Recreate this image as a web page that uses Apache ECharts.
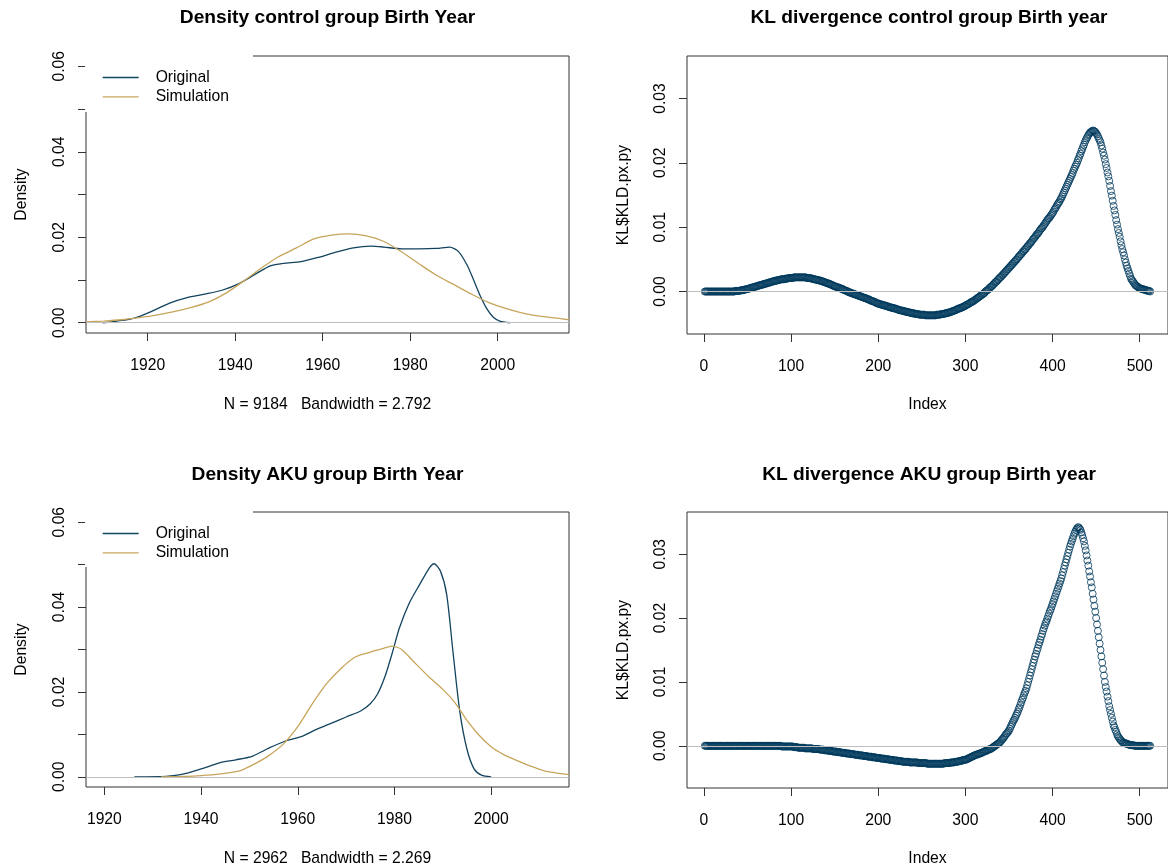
<!DOCTYPE html>
<html>
<head>
<meta charset="utf-8">
<script src="https://cdn.jsdelivr.net/npm/echarts@6/dist/echarts.min.js"></script>
<style>
html,body{margin:0;padding:0;background:#fff;}
#chart{width:1168px;height:868px;}
</style>
</head>
<body>
<div id="chart"></div>
<script>
// ---------- Data ----------
const ctrlOrigYear = [1909.7, 1913, 1917, 1921, 1925, 1929, 1933, 1937, 1941, 1945, 1948, 1951, 1955, 1959, 1963, 1967, 1971, 1974, 1978, 1982, 1986, 1989, 1991, 1993, 1994.5, 1996, 1997.5, 1999, 2000.5, 2002.8];
const ctrlOrigDens = [0.0000, 0.0004, 0.0011, 0.0027, 0.0046, 0.0059, 0.0067, 0.0076, 0.0092, 0.0116, 0.0133, 0.0139, 0.0143, 0.0153, 0.0165, 0.0175, 0.0179, 0.0177, 0.0173, 0.0173, 0.0174, 0.0177, 0.0167, 0.0135, 0.0100, 0.0063, 0.0033, 0.0013, 0.0004, 0.0000];

const ctrlSimYear = [1905.9, 1910, 1914, 1918, 1922, 1926, 1930, 1934, 1938, 1942, 1946, 1950, 1954, 1958, 1962, 1966, 1970, 1974, 1978, 1982, 1986, 1990, 1994, 1998, 2002, 2006, 2010, 2014, 2016.4];
const ctrlSimDens = [0.0002, 0.0004, 0.0007, 0.0012, 0.0018, 0.0026, 0.0036, 0.0049, 0.0070, 0.0098, 0.0128, 0.0155, 0.0175, 0.0196, 0.0205, 0.0208, 0.0203, 0.0190, 0.0166, 0.0138, 0.0111, 0.0089, 0.0067, 0.0047, 0.0033, 0.0022, 0.0015, 0.0010, 0.0007];

const akuOrigYear = [1926.2, 1932.8, 1936.9, 1940.4, 1943.8, 1947.2, 1950.7, 1954.1, 1957.6, 1961, 1963.5, 1966.5, 1970, 1973, 1975, 1976.5, 1978, 1979.5, 1981, 1983, 1985.2, 1987.2, 1988.2, 1989.5, 1990.8, 1992.1, 1993.5, 1995, 1996.5, 1998, 2000];
const akuOrigDens = [0.0000, 0.0001, 0.0008, 0.0020, 0.0033, 0.0040, 0.0049, 0.0068, 0.0085, 0.0096, 0.0110, 0.0124, 0.0141, 0.0155, 0.0172, 0.0195, 0.0235, 0.0290, 0.0350, 0.0408, 0.0453, 0.0492, 0.0502, 0.0485, 0.0430, 0.0295, 0.0155, 0.0065, 0.0018, 0.0004, 0.0000];

const akuSimYear = [1931.7, 1936, 1940, 1944, 1948, 1951, 1954, 1957, 1960, 1963, 1966, 1969, 1972, 1975, 1977.5, 1979.5, 1981.5, 1984, 1987, 1990, 1992.5, 1995, 1997.5, 2000, 2002.5, 2005, 2008, 2011, 2014, 2016.1];
const akuSimDens = [0.0000, 0.0001, 0.0003, 0.0007, 0.0014, 0.0030, 0.0050, 0.0077, 0.0118, 0.0172, 0.0220, 0.0256, 0.0283, 0.0294, 0.0302, 0.0308, 0.0300, 0.0271, 0.0237, 0.0206, 0.0175, 0.0133, 0.0098, 0.0071, 0.0053, 0.0040, 0.0026, 0.0014, 0.0008, 0.0005];

// KL divergence values, index 1..512
const kldControl = [
0,0,0,0,0,0,0,0,0,0,
0,0,0,0,0,0,0,0,0,0,
0,0,0,0,0,0,0,0,0,0,
0,0,0,0,0,0.0001,0.0001,0.0001,0.0001,0.0001,
0.0001,0.0002,0.0002,0.0002,0.0002,0.0003,0.0003,0.0003,0.0004,0.0004,
0.0004,0.0005,0.0005,0.0006,0.0006,0.0006,0.0007,0.0007,0.0008,0.0008,
0.0008,0.0009,0.0009,0.0010,0.0010,0.0010,0.0011,0.0011,0.0012,0.0012,
0.0012,0.0013,0.0013,0.0014,0.0014,0.0014,0.0015,0.0015,0.0016,0.0016,
0.0016,0.0017,0.0017,0.0017,0.0018,0.0018,0.0018,0.0019,0.0019,0.0019,
0.0019,0.0019,0.0020,0.0020,0.0020,0.0020,0.0021,0.0021,0.0021,0.0021,
0.0021,0.0021,0.0022,0.0022,0.0022,0.0022,0.0022,0.0022,0.0022,0.0022,
0.0022,0.0022,0.0022,0.0022,0.0022,0.0022,0.0022,0.0021,0.0021,0.0021,
0.0021,0.0021,0.0020,0.0020,0.0020,0.0019,0.0019,0.0019,0.0018,0.0018,
0.0018,0.0017,0.0017,0.0017,0.0016,0.0016,0.0015,0.0015,0.0014,0.0014,
0.0013,0.0013,0.0012,0.0012,0.0011,0.0011,0.0010,0.0009,0.0009,0.0008,
0.0008,0.0007,0.0007,0.0006,0.0006,0.0005,0.0005,0.0004,0.0004,0.0003,
0.0002,0.0002,0.0001,0.0001,0,-0.0001,-0.0001,-0.0002,-0.0002,-0.0003,
-0.0003,-0.0004,-0.0004,-0.0005,-0.0005,-0.0006,-0.0006,-0.0007,-0.0007,-0.0008,
-0.0008,-0.0009,-0.0009,-0.0010,-0.0010,-0.0011,-0.0011,-0.0012,-0.0012,-0.0013,
-0.0014,-0.0014,-0.0015,-0.0015,-0.0016,-0.0016,-0.0017,-0.0018,-0.0018,-0.0019,
-0.0019,-0.0020,-0.0020,-0.0020,-0.0021,-0.0021,-0.0022,-0.0022,-0.0022,-0.0023,
-0.0023,-0.0024,-0.0024,-0.0025,-0.0025,-0.0025,-0.0026,-0.0026,-0.0026,-0.0027,
-0.0027,-0.0028,-0.0028,-0.0029,-0.0029,-0.0029,-0.0030,-0.0030,-0.0030,-0.0031,
-0.0031,-0.0031,-0.0032,-0.0032,-0.0032,-0.0033,-0.0033,-0.0033,-0.0034,-0.0034,
-0.0034,-0.0034,-0.0035,-0.0035,-0.0035,-0.0035,-0.0036,-0.0036,-0.0036,-0.0036,
-0.0036,-0.0036,-0.0036,-0.0037,-0.0037,-0.0037,-0.0037,-0.0037,-0.0037,-0.0037,
-0.0037,-0.0037,-0.0037,-0.0037,-0.0037,-0.0037,-0.0036,-0.0036,-0.0036,-0.0036,
-0.0036,-0.0035,-0.0035,-0.0035,-0.0035,-0.0034,-0.0034,-0.0034,-0.0033,-0.0033,
-0.0033,-0.0032,-0.0032,-0.0031,-0.0031,-0.0030,-0.0030,-0.0029,-0.0029,-0.0028,
-0.0027,-0.0027,-0.0026,-0.0026,-0.0025,-0.0025,-0.0024,-0.0023,-0.0023,-0.0022,
-0.0021,-0.0020,-0.0020,-0.0019,-0.0018,-0.0017,-0.0016,-0.0016,-0.0015,-0.0014,
-0.0013,-0.0012,-0.0011,-0.0010,-0.0009,-0.0008,-0.0007,-0.0006,-0.0005,-0.0004,
-0.0003,-0.0002,0,0.0001,0.0002,0.0003,0.0004,0.0006,0.0007,0.0008,
0.0009,0.0011,0.0012,0.0014,0.0015,0.0016,0.0018,0.0019,0.0021,0.0022,
0.0023,0.0025,0.0026,0.0028,0.0029,0.0031,0.0032,0.0034,0.0035,0.0037,
0.0038,0.0040,0.0041,0.0043,0.0044,0.0046,0.0047,0.0049,0.0050,0.0052,
0.0054,0.0055,0.0057,0.0058,0.0060,0.0062,0.0063,0.0065,0.0066,0.0068,
0.0070,0.0071,0.0073,0.0075,0.0076,0.0078,0.0080,0.0082,0.0083,0.0085,
0.0087,0.0089,0.0090,0.0092,0.0094,0.0096,0.0098,0.0099,0.0101,0.0103,
0.0105,0.0107,0.0109,0.0111,0.0113,0.0114,0.0116,0.0118,0.0120,0.0122,
0.0124,0.0127,0.0129,0.0131,0.0134,0.0136,0.0138,0.0140,0.0143,0.0145,
0.0148,0.0151,0.0154,0.0157,0.0160,0.0163,0.0166,0.0169,0.0172,0.0175,
0.0178,0.0181,0.0184,0.0188,0.0191,0.0194,0.0197,0.0200,
0.0204,0.0207,0.0211,0.0214,0.0218,0.0221,0.0225,0.0228,0.0232,
0.0235,0.0238,0.0240,0.0243,0.0245,
0.0247,0.0248,0.0249,0.0250,
0.0250,0.0249,0.0248,0.0246,
0.0244,0.0241,0.0238,0.0235,0.0232,
0.0227,0.0222,0.0216,0.0211,0.0205,
0.0198,0.0192,0.0185,0.0179,0.0172,
0.0164,0.0156,0.0149,0.0141,0.0133,
0.0126,0.0119,0.0111,0.0104,0.0097,
0.0091,0.0085,0.0078,0.0072,0.0066,
0.0061,0.0056,0.0050,0.0045,0.0040,
0.0036,0.0032,0.0028,0.0024,0.0020,
0.0018,0.0016,0.0014,0.0012,0.0010,
0.0009,0.0008,0.0007,0.0006,0.0005,
0.0005,0.0004,0.0004,0.0003,0.0003,
0.0003,0.0002,0.0002,0.0001,0.0001,0.0001,0
];

const kldAku = [
0,0,0,0,0,0,0,0,0,0,
0,0,0,0,0,0,0,0,0,0,
0,0,0,0,0,0,0,0,0,0,
0,0,0,0,0,0,0,0,0,0,
0,0,0,0,0,0,0,0,0,0,
0,0,0,0,0,0,0,0,0,0,
0,0,0,0,0,0,0,0,0,0,
0,0,0,0,0,0,0,0,0,0,
0,0,0,0,0,0,0,0,-0.0001,-0.0001,
-0.0001,-0.0001,-0.0001,-0.0001,-0.0001,-0.0001,-0.0001,-0.0001,-0.0001,-0.0001,
-0.0001,-0.0001,-0.0002,-0.0002,-0.0002,-0.0002,-0.0002,-0.0003,-0.0003,-0.0003,
-0.0003,-0.0003,-0.0003,-0.0003,-0.0003,-0.0004,-0.0004,-0.0004,-0.0004,-0.0004,
-0.0004,-0.0004,-0.0004,-0.0004,-0.0005,-0.0005,-0.0005,-0.0005,-0.0005,-0.0005,
-0.0005,-0.0005,-0.0006,-0.0006,-0.0006,-0.0006,-0.0006,-0.0007,-0.0007,-0.0007,
-0.0007,-0.0007,-0.0008,-0.0008,-0.0008,-0.0008,-0.0008,-0.0009,-0.0009,-0.0009,
-0.0009,-0.0009,-0.0010,-0.0010,-0.0010,-0.0010,-0.0010,-0.0011,-0.0011,-0.0011,
-0.0011,-0.0011,-0.0012,-0.0012,-0.0012,-0.0012,-0.0012,-0.0013,-0.0013,-0.0013,
-0.0013,-0.0013,-0.0014,-0.0014,-0.0014,-0.0014,-0.0014,-0.0015,-0.0015,-0.0015,
-0.0015,-0.0015,-0.0016,-0.0016,-0.0016,-0.0016,-0.0016,-0.0017,-0.0017,-0.0017,
-0.0017,-0.0017,-0.0018,-0.0018,-0.0018,-0.0018,-0.0018,-0.0019,-0.0019,-0.0019,
-0.0019,-0.0019,-0.0020,-0.0020,-0.0020,-0.0020,-0.0020,-0.0021,-0.0021,-0.0021,
-0.0021,-0.0021,-0.0022,-0.0022,-0.0022,-0.0022,-0.0022,-0.0023,-0.0023,-0.0023,
-0.0023,-0.0023,-0.0024,-0.0024,-0.0024,-0.0024,-0.0024,-0.0025,-0.0025,-0.0025,
-0.0025,-0.0025,-0.0025,-0.0025,-0.0025,-0.0026,-0.0026,-0.0026,-0.0026,-0.0026,
-0.0026,-0.0026,-0.0026,-0.0026,-0.0026,-0.0027,-0.0027,-0.0027,-0.0027,-0.0027,
-0.0027,-0.0027,-0.0027,-0.0027,-0.0027,-0.0028,-0.0028,-0.0028,-0.0028,-0.0028,
-0.0028,-0.0028,-0.0028,-0.0028,-0.0028,-0.0028,-0.0028,-0.0028,-0.0028,-0.0028,
-0.0028,-0.0028,-0.0028,-0.0028,-0.0028,-0.0027,-0.0027,-0.0027,-0.0027,-0.0027,
-0.0027,-0.0027,-0.0026,-0.0026,-0.0026,-0.0026,-0.0026,-0.0025,-0.0025,-0.0025,
-0.0025,-0.0024,-0.0024,-0.0024,-0.0023,-0.0023,-0.0023,-0.0022,-0.0022,-0.0022,
-0.0021,-0.0021,-0.0020,-0.0019,-0.0019,-0.0018,-0.0017,-0.0017,-0.0016,-0.0015,
-0.0015,-0.0014,-0.0014,-0.0013,-0.0013,-0.0012,-0.0012,-0.0011,-0.0011,-0.0010,
-0.0009,-0.0009,-0.0008,-0.0008,-0.0007,-0.0006,-0.0006,-0.0005,-0.0005,-0.0004,
-0.0003,-0.0002,-0.0001,0,0.0001,0.0002,0.0003,0.0004,0.0005,0.0006,
0.0008,0.0010,0.0011,0.0013,0.0015,0.0017,0.0019,0.0020,0.0022,0.0024,
0.0027,0.0030,0.0033,0.0036,0.0039,0.0041,0.0044,0.0047,0.0050,0.0053,
0.0057,0.0060,0.0064,0.0068,0.0072,0.0075,0.0079,0.0083,0.0086,0.0090,
0.0095,0.0100,0.0105,0.0110,0.0115,0.0120,0.0125,0.0130,0.0135,0.0140,
0.0144,0.0149,0.0153,0.0158,0.0162,0.0166,0.0171,0.0175,0.0180,0.0184,
0.0188,0.0192,0.0195,0.0199,0.0203,0.0207,0.0211,0.0214,0.0218,0.0222,
0.0226,0.0230,0.0234,0.0238,0.0242,0.0246,0.0250,0.0254,0.0258,0.0262,
0.0267,0.0272,0.0277,0.0282,0.0287,0.0292,0.0297,0.0302,0.0307,0.0312,
0.0316,0.0320,0.0324,0.0328,0.0332,
0.0335,0.0338,0.0340,0.0342,
0.0342,0.0340,0.0338,
0.0334,0.0330,0.0325,0.0320,
0.0313,0.0306,0.0298,0.0290,
0.0282,0.0273,0.0265,0.0256,0.0248,
0.0238,0.0229,0.0219,0.0210,0.0200,
0.0190,0.0180,0.0170,0.0160,0.0150,
0.0140,0.0130,0.0120,0.0110,0.0100,
0.0092,0.0085,0.0077,0.0070,0.0062,
0.0056,0.0050,0.0044,0.0038,0.0032,
0.0029,0.0025,0.0022,0.0018,0.0015,
0.0013,0.0011,0.0009,0.0008,0.0006,
0.0005,0.0005,0.0004,0.0004,0.0003,
0.0003,0.0002,0.0002,0.0001,0.0001,
0.0001,0.0001,0.0001,0,0,0,0,0,0,0,
0,0,0,0,0,0,0,0,0,0,0,0
];

const densityTicksX = [1920, 1940, 1960, 1980, 2000];
const densityTicksY = [0, 0.01, 0.02, 0.03, 0.04, 0.05, 0.06];
const densityLabelsY = [0, 0.02, 0.04, 0.06];
const klTicksX = [0, 100, 200, 300, 400, 500];
const klTicksY = [0, 0.01, 0.02, 0.03];

const titles = ['Density control group Birth Year', 'KL divergence control group Birth year',
                'Density AKU group Birth Year', 'KL divergence AKU group Birth year'];
const xNames = ['N = 9184   Bandwidth = 2.792', 'Index', 'N = 2962   Bandwidth = 2.269', 'Index'];
const yNames = ['Density', 'KL$KLD.px.py', 'Density', 'KL$KLD.px.py'];
const legendNames = ['Original', 'Simulation'];

// ---------- Styles ----------
const FONT = 'Liberation Sans, Arial, sans-serif';
const FS = 15.7;
const COL_ORIG = '#12435F';
const COL_SIM = '#C7A55A';
const COL_KL = '#003A5D';
const COL_ZERO = '#BEBEBE';
const COL_FRAME = '#333333';

const grids = [
  {left: 86, top: 56, width: 483, height: 277},
  {left: 687, top: 56, width: 484, height: 278},
  {left: 86, top: 512, width: 483, height: 277},
  {left: 687, top: 512, width: 484, height: 277}
];

const xRanges = [[1905.9, 2016.3], [-19.44, 532.44], [1916.2, 2016.1], [-19.44, 532.44]];
const yRanges = [[-0.0024, 0.0624], [-0.0066, 0.0366], [-0.0024, 0.0624], [-0.0066, 0.0366]];

function zip(xs, ys) { return xs.map((x, i) => [x, ys[i]]); }

const zeroLine = {
  silent: true, symbol: ['none', 'none'], label: {show: false},
  lineStyle: {color: COL_ZERO, type: 'solid', width: 1},
  data: [{yAxis: 0}], animation: false
};

const xAxes = grids.map((g, i) => {
  const isKL = (i % 2 === 1);
  const ticks = isKL ? klTicksX : densityTicksX;
  return {
    gridIndex: i, type: 'value', min: xRanges[i][0], max: xRanges[i][1], position: 'bottom',
    axisLine: {show: false, onZero: false},
    axisTick: {show: true, length: 8, customValues: ticks, lineStyle: {color: COL_FRAME, width: 1}},
    axisLabel: {customValues: ticks, margin: 25, color: '#000', fontSize: FS, fontFamily: FONT,
      formatter: v => String(v)},
    splitLine: {show: false},
    name: xNames[i], nameLocation: 'middle', nameGap: isKL ? 63 : 64,
    nameTextStyle: {color: '#000', fontSize: FS, fontFamily: FONT}
  };
});

const yAxes = grids.map((g, i) => {
  const isKL = (i % 2 === 1);
  const ticks = isKL ? klTicksY : densityTicksY;
  const labels = isKL ? klTicksY : densityLabelsY;
  return {
    gridIndex: i, type: 'value', min: yRanges[i][0], max: yRanges[i][1], position: 'left',
    axisLine: {show: false, onZero: false},
    axisTick: {show: true, length: 8, customValues: ticks, lineStyle: {color: COL_FRAME, width: 1}},
    axisLabel: {customValues: labels, rotate: 90, margin: 18, color: '#000', fontSize: FS, fontFamily: FONT,
      formatter: v => v.toFixed(2)},
    splitLine: {show: false},
    name: yNames[i], nameLocation: 'middle', nameGap: isKL ? 55 : 56,
    nameTextStyle: {color: '#000', fontSize: FS, fontFamily: FONT}
  };
});

function densitySeries(name, gi, xs, ys, color, withZero) {
  const s = {
    name: name, type: 'line', xAxisIndex: gi, yAxisIndex: gi,
    data: zip(xs, ys), symbol: 'none', smooth: 0.25, clip: true,
    lineStyle: {color: color, width: 1.3}, itemStyle: {color: color},
    z: 2
  };
  if (withZero) s.markLine = zeroLine;
  return s;
}

function klSeries(gi, vals) {
  return {
    name: 'KL' + gi, type: 'scatter', xAxisIndex: gi, yAxisIndex: gi,
    data: vals.map((v, i) => [i + 1, v]),
    symbol: 'circle', symbolSize: 7,
    itemStyle: {color: 'rgba(0,0,0,0)', borderColor: COL_KL, borderWidth: 1},
    markLine: zeroLine, z: 2
  };
}

const series = [
  densitySeries('Original', 0, ctrlOrigYear, ctrlOrigDens, COL_ORIG, true),
  densitySeries('Simulation', 0, ctrlSimYear, ctrlSimDens, COL_SIM, false),
  klSeries(1, kldControl),
  densitySeries('Original', 2, akuOrigYear, akuOrigDens, COL_ORIG, true),
  densitySeries('Simulation', 2, akuSimYear, akuSimDens, COL_SIM, false),
  klSeries(3, kldAku)
];

const titleCenters = [327.5, 929, 327.5, 929];
const titleTops = [8, 8, 465, 465];

const option = {
  animation: false,
  backgroundColor: '#ffffff',
  textStyle: {fontFamily: FONT},
  title: titles.map((t, i) => ({
    text: t, left: titleCenters[i], top: titleTops[i], textAlign: 'center', padding: 0,
    textStyle: {fontSize: 19.2, fontWeight: 'bold', color: '#000', fontFamily: FONT}
  })),
  grid: grids.map(g => Object.assign({show: true, borderColor: COL_FRAME, borderWidth: 1,
    backgroundColor: 'transparent', containLabel: false}, g)),
  xAxis: xAxes,
  yAxis: yAxes,
  legend: [69.5, 525.5].map(top => ({
    data: legendNames, orient: 'vertical', left: 102, top: top, padding: 0,
    itemWidth: 36, itemHeight: 14, itemGap: 3.3, z: 20,
    selectedMode: false,
    itemStyle: {opacity: 0},
    lineStyle: {width: 1.3},
    textStyle: {fontSize: FS, color: '#000', fontFamily: FONT, padding: [0, 0, 0, 12]}
  })),
  graphic: [
    {type: 'rect', shape: {x: 85, y: 50, width: 168, height: 62}, style: {fill: '#fff'}, z: 10, silent: true},
    {type: 'rect', shape: {x: 85, y: 506, width: 168, height: 61}, style: {fill: '#fff'}, z: 10, silent: true}
  ],
  series: series
};

const chart = echarts.init(document.getElementById('chart'), null, {renderer: 'canvas'});
chart.setOption(option);
</script>
</body>
</html>
